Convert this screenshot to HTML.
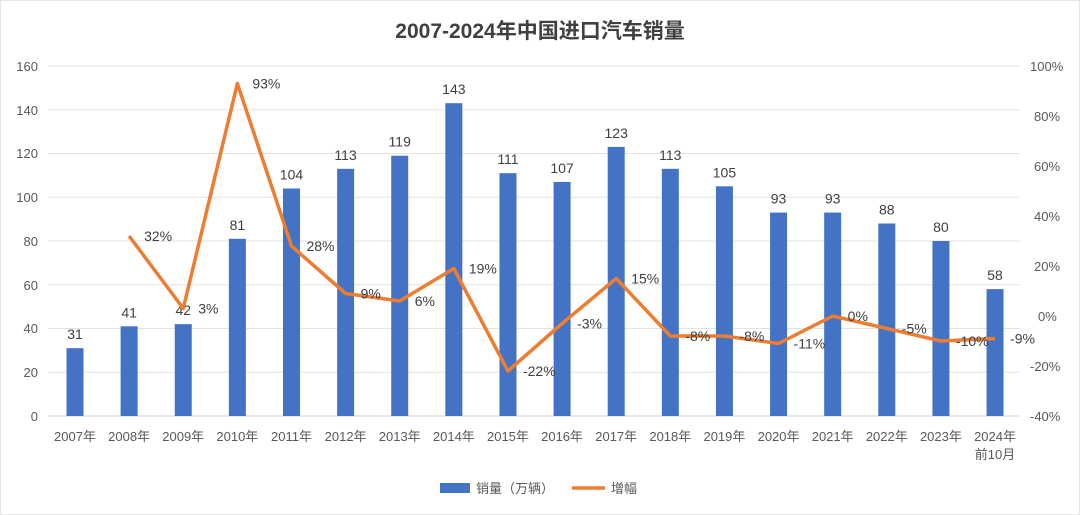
<!DOCTYPE html>
<html><head><meta charset="utf-8"><style>
body{margin:0;background:#fff;}
svg{display:block;font-family:"Liberation Sans","Noto Sans CJK SC",sans-serif;}
</style></head><body>
<svg width="1080" height="515" viewBox="0 0 1080 515">
<rect x="0.5" y="0.5" width="1079" height="514" fill="#fff" stroke="#e6e6e6"/>
<text x="540" y="38" text-anchor="middle" font-size="21" font-weight="bold" fill="#404040">2007-2024年中国进口汽车销量</text>
<g stroke="#e3e3e3" stroke-width="1">
<line x1="48" x2="1020" y1="66" y2="66"/><line x1="48" x2="1020" y1="109.75" y2="109.75"/>
<line x1="48" x2="1020" y1="153.5" y2="153.5"/><line x1="48" x2="1020" y1="197.25" y2="197.25"/>
<line x1="48" x2="1020" y1="241" y2="241"/><line x1="48" x2="1020" y1="284.75" y2="284.75"/>
<line x1="48" x2="1020" y1="328.5" y2="328.5"/><line x1="48" x2="1020" y1="372.25" y2="372.25"/>
</g>
<line x1="48" x2="1020" y1="416" y2="416" stroke="#d0d0d0"/>
<g font-size="13" fill="#595959" text-anchor="end">
<text x="38" y="71">160</text><text x="38" y="115">140</text><text x="38" y="158">120</text><text x="38" y="202">100</text>
<text x="38" y="246">80</text><text x="38" y="290">60</text><text x="38" y="333">40</text><text x="38" y="377">20</text><text x="38" y="421">0</text>
</g>
<g font-size="13" fill="#595959">
<text x="1030" y="71">100%</text><text x="1034" y="121">80%</text><text x="1034" y="171">60%</text><text x="1034" y="221">40%</text>
<text x="1034" y="271">20%</text><text x="1038" y="321">0%</text><text x="1030" y="371">-20%</text><text x="1030" y="421">-40%</text>
</g>
<g id="bars" fill="#4472c4"></g>
<g id="blab" font-size="14" fill="#404040" text-anchor="middle"></g>
<g id="xlab" font-size="13" fill="#595959" text-anchor="middle"></g>
<polyline id="line" fill="none" stroke="#ed7d31" stroke-width="3.5" stroke-linejoin="round"/>
<g id="plab" font-size="14" fill="#404040"></g>
<rect x="440" y="483" width="30" height="10" fill="#4472c4"/>
<text x="476" y="493" font-size="13" fill="#595959">销量（万辆）</text>
<line x1="572" x2="605" y1="488" y2="488" stroke="#ed7d31" stroke-width="3.5"/>
<text x="611" y="493" font-size="13" fill="#595959">增幅</text>
</svg>
<script>
var v=[31,41,42,81,104,113,119,143,111,107,123,113,105,93,93,88,80,58];
var p=[null,32,3,93,28,9,6,19,-22,-3,15,-8,-8,-11,0,-5,-10,-9];
var ns="http://www.w3.org/2000/svg";
function el(t,a,par,txt){var e=document.createElementNS(ns,t);for(var k in a)e.setAttribute(k,a[k]);if(txt!=null)e.textContent=txt;document.getElementById(par).appendChild(e);}
var pts=[];
for(var i=0;i<18;i++){
 var cx=75+i*54.12, y=416-v[i]*2.1875;
 el('rect',{x:cx-8.5,y:y,width:17,height:416-y},'bars');
 el('text',{x:cx,y:y-9},'blab',v[i]);
 el('text',{x:cx,y:441},'xlab',(2007+i)+'年');
 if(p[i]!=null){var py=316-p[i]*2.5;pts.push(cx+','+py);
  el('text',{x:cx+15,y:py+5},'plab',p[i]+'%');}
}
el('text',{x:995,y:459},'xlab','前10月');
document.getElementById('line').setAttribute('points',pts.join(' '));
</script>
</body></html>
